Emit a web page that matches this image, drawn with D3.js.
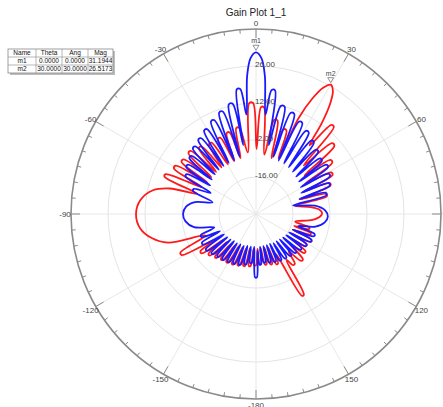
<!DOCTYPE html>
<html>
<head>
<meta charset="utf-8">
<script src="https://cdn.jsdelivr.net/npm/d3@7"></script>
<style>
  html, body { margin: 0; padding: 0; background: #fff; }
  svg { display: block; font-family: "Liberation Sans", Arial, sans-serif; }
</style>
</head>
<body>
<svg id="gainPlot" width="443" height="407"></svg>
<script>
// Gain Plot 1_1 : two traces, [theta deg, mag dB]
// (lobe edges near each tip, and the nulls between lobes)
const blueGain = [
  [-179.2,-6.0],[-177,-17.5],[-175,-11.4],[-173,-11.4],[-171,-17.5],[-169,-10.6],[-167,-10.6],[-165,-17.5],
  [-163,-9.9],[-161,-9.9],[-159,-17.1],[-157,-9.5],[-155,-9.5],[-153,-17.1],[-151,-9.1],[-149,-9.1],
  [-147,-16.8],[-145,-8.7],[-143,-8.7],[-141,-16.8],[-139,-8.4],[-137,-8.4],[-135,-16.4],[-133,-7.6],
  [-131,-7.6],[-129,-16.0],[-127,-6.8],[-125,-6.8],[-122.5,-15.6],[-120,-6.8],[-118,-6.8],[-115.5,-14.9],
  [-113,-7.6],[-111,-7.6],[-108,-13.4],[-102,-6.0],[-96,-3.2],[-90,-2.4],[-84,-3.4],[-79,-6.5],
  [-75,-13.0],[-70,-4.6],[-68,-4.6],[-65,-11.1],[-62,0.2],[-60,0.2],[-58,-9.6],[-56,1.8],
  [-54,1.8],[-52,-8.8],[-50,2.9],[-48,2.9],[-46,-8.4],[-44,4.4],[-42,4.4],[-40,-8.1],
  [-38,5.5],[-36,5.5],[-34,-8.1],[-32,7.1],[-30,7.1],[-28,-8.1],[-26,8.9],[-24,8.9],
  [-22,-8.1],[-20,10.8],[-18,10.8],[-16,-7.3],[-14,12.7],[-12,12.7],[-10.5,-3.5],[-8.8,17.7],
  [-7.2,17.7],[-5.5,7.8],[-3.7,22.2],[-2,29.0],[0,31.19],[2,29.0],[3.7,22.2],[5.5,7.8],
  [7.2,17.3],[8.8,17.3],[10.5,-3.5],[13,12.0],[15,12.0],[17,-7.3],[19,10.5],[21,10.5],
  [23,-8.1],[25,8.6],[27,8.6],[29,-8.1],[31,6.7],[33,6.7],[35,-8.4],[37,4.8],
  [39,4.8],[41,-8.8],[43,3.3],[45,3.3],[47,-9.2],[49,2.1],[51,2.1],[53,-9.6],
  [55,2.5],[57,2.5],[59,-10.3],[61,1.4],[63,1.4],[65,-11.1],[67,-0.1],[69,-0.1],
  [71,-12.6],[73,-2.4],[75,-2.4],[77,-15.6],[82,-7.5],[87,-3.8],[92,-2.8],[97,-3.8],
  [102,-7.0],[106,-13.4],[109,-6.5],[111,-6.5],[113,-14.9],[115,-6.8],[117,-6.8],[119,-15.6],
  [121,-7.6],[123,-7.6],[125,-16.0],[127,-8.4],[129,-8.4],[131,-16.4],[133,-9.1],[135,-9.1],
  [137,-16.8],[139,-9.5],[141,-9.5],[143,-17.1],[145,-9.9],[147,-9.9],[149,-17.1],[151,-10.2],
  [153,-10.2],[155,-17.5],[157,-10.6],[159,-10.6],[161,-17.5],[163,-11.0],[165,-11.0],[167,-17.5],
  [169,-11.4],[171,-11.4],[173,-17.5],[174.5,-10.8],[176,-10.8],[177.7,-16.0],[179.2,-6.0]
];

const redGain = [
  [-180,-10.6],[-178,-10.6],[-176,-16.8],[-174,-10.2],[-172,-10.2],[-170,-16.8],[-168,-9.9],[-166,-9.9],
  [-164,-16.4],[-162,-9.5],[-160,-9.5],[-158,-16.4],[-156,-9.1],[-154,-9.1],[-152,-16.0],[-150,-8.7],
  [-148,-8.7],[-146,-15.6],[-144,-8.4],[-142,-8.4],[-140,-15.2],[-138,-7.6],[-136,-7.6],[-134,-14.9],
  [-132,-6.5],[-130,-6.5],[-128,-14.1],[-126,-4.6],[-124,-4.6],[-122,-11.8],[-119,2.1],[-117,2.1],
  [-113,-9.2],[-108,5.0],[-103,10.5],[-97,14.2],[-90,15.4],[-83,14.0],[-77,10.0],[-73.5,4.0],
  [-71,-6.5],[-67.8,7.4],[-66.2,7.4],[-63.5,-7.3],[-61,5.5],[-59,5.5],[-57,-8.1],[-55,4.4],
  [-53,4.4],[-50.5,-8.1],[-48,4.4],[-46,4.4],[-43.5,-8.1],[-41,2.9],[-39,2.9],[-36.5,-8.1],
  [-34,1.8],[-32,1.8],[-29.5,-8.4],[-27,1.8],[-25,1.8],[-22.5,-8.4],[-20,2.5],[-18,2.5],
  [-15.5,-8.1],[-13,3.3],[-11,3.3],[-7.5,-6.5],[-3.5,12.0],[-1.5,12.0],[0.5,-5.4],[2.7,10.5],
  [4.3,10.5],[8,-7.3],[11,6.3],[13,6.3],[15.5,-8.1],[18,3.7],[20,3.7],[22,-7.3],
  [24,10.0],[26,18.5],[28,24.1],[30,26.52],[32,24.9],[34,20.0],[36,12.0],[38,2.9],
  [40.2,14.2],[41.8,14.2],[44.5,-4.3],[47,9.3],[49,9.3],[51.5,-6.5],[54,4.8],[56,4.8],
  [58.5,-8.4],[61,2.5],[63,2.5],[65,-10.3],[67,0.2],[69,0.2],[71.5,-12.6],[74,-2.4],
  [76,-2.4],[78,-14.9],[83,-9.0],[86,-6.0],[89,-5.0],[92,-5.6],[96,-8.5],[101,-14.9],
  [104.2,-9.1],[105.8,-9.1],[107.5,-14.9],[109.2,-8.0],[110.8,-8.0],[113,-14.9],[115,-6.8],[117,-6.8],
  [119,-14.1],[121,-7.6],[123,-7.6],[125,-14.1],[127,-6.5],[129,-6.5],[131.5,-13.0],[134,-5.3],
  [136,-5.3],[139,-11.1],[142,-6.1],[144,-6.1],[146.5,-9.2],[149.3,5.5],[150.7,5.5],[153.5,-13.0],
  [156,-9.5],[158,-9.5],[160,-16.4],[162,-10.2],[164,-10.2],[166,-16.8],[168,-10.6],[170,-10.6],
  [172,-16.8],[174,-11.0],[176,-11.0],[177.5,-16.8]
];

const magDomain = [-30, 40];
const ringTicks = [-16, -2, 12, 26];
const spokeAngles = [0, 30, 60, 90, 120, 150, 180, 210, 240, 270, 300, 330];
const spokeLabels = ["0", "30", "60", "90", "120", "150", "-180", "-150", "-120", "-90", "-60", "-30"];

const markers = [
  { name: "m1", theta: 0, mag: 31.1944 },
  { name: "m2", theta: 30, mag: 26.5173 }
];
const tableHeader = ["Name", "Theta", "Ang", "Mag"];
const tableRows = [
  ["m1", "0.0000", "0.0000", "31.1944"],
  ["m2", "30.0000", "30.0000", "26.5173"]
];

const svg = d3.select("#gainPlot");
const cx = 256, cy = 214, R = 185;
const rad = d => d * Math.PI / 180;
const r = d3.scaleLinear().domain(magDomain).range([0, R]);

// title
svg.append("text")
  .attr("x", cx).attr("y", 16)
  .attr("text-anchor", "middle")
  .attr("font-size", 10)
  .attr("fill", "#222")
  .text("Gain Plot 1_1");

const g = svg.append("g").attr("transform", `translate(${cx},${cy})`);

// grid rings and spokes
g.selectAll("circle.ring")
  .data(ringTicks)
  .join("circle")
  .attr("class", "ring")
  .attr("r", d => r(d))
  .attr("fill", "none")
  .attr("stroke", "#e4e4e4")
  .attr("stroke-width", 1);

g.selectAll("line.spoke")
  .data(spokeAngles)
  .join("line")
  .attr("class", "spoke")
  .attr("x1", 0).attr("y1", 0)
  .attr("x2", d => R * Math.sin(rad(d)))
  .attr("y2", d => -R * Math.cos(rad(d)))
  .attr("stroke", "#e8e8e8")
  .attr("stroke-width", 1);

// outer ring with ticks every 5 degrees
g.append("circle")
  .attr("r", R)
  .attr("fill", "none")
  .attr("stroke", "#8a8a8a")
  .attr("stroke-width", 1.6);

const tickAngles = d3.range(0, 360, 5);
g.selectAll("line.tick")
  .data(tickAngles)
  .join("line")
  .attr("class", "tick")
  .attr("x1", d => R * Math.sin(rad(d)))
  .attr("y1", d => -R * Math.cos(rad(d)))
  .attr("x2", d => (R - (d % 30 === 0 ? 9 : 4)) * Math.sin(rad(d)))
  .attr("y2", d => -(R - (d % 30 === 0 ? 9 : 4)) * Math.cos(rad(d)))
  .attr("stroke", "#8a8a8a")
  .attr("stroke-width", 1);

g.selectAll("text.angle")
  .data(spokeAngles)
  .join("text")
  .attr("class", "angle")
  .attr("x", d => 191 * Math.sin(rad(d)))
  .attr("y", d => -191 * Math.cos(rad(d)) + 3)
  .attr("text-anchor", "middle")
  .attr("font-size", 8)
  .attr("fill", "#444")
  .text((d, i) => spokeLabels[i]);

// traces
const line = d3.lineRadial()
  .angle(d => rad(d[0]))
  .radius(d => r(d[1]))
  .curve(d3.curveCatmullRomClosed.alpha(0.5));

g.append("path")
  .datum(redGain)
  .attr("d", line)
  .attr("fill", "none")
  .attr("stroke", "#ff1a1a")
  .attr("stroke-width", 1.8);

g.append("path")
  .datum(blueGain)
  .attr("d", line)
  .attr("fill", "none")
  .attr("stroke", "#1a1aff")
  .attr("stroke-width", 1.8);

// ring labels
g.selectAll("text.ringLabel")
  .data(ringTicks)
  .join("text")
  .attr("class", "ringLabel")
  .attr("x", -1)
  .attr("y", d => -r(d) + 1)
  .attr("font-size", 8)
  .attr("fill", "#444")
  .text(d => d.toFixed(2));

// markers
const mk = g.selectAll("g.marker")
  .data(markers)
  .join("g")
  .attr("class", "marker")
  .attr("transform", d => {
    const rr = r(d.mag);
    return `translate(${rr * Math.sin(rad(d.theta))},${-rr * Math.cos(rad(d.theta))})`;
  });
mk.append("path")
  .attr("d", "M0,-2 L-3,-7 L3,-7 Z")
  .attr("fill", "#fff")
  .attr("stroke", "#777")
  .attr("stroke-width", 0.8);
mk.append("text")
  .attr("y", -9)
  .attr("text-anchor", "middle")
  .attr("font-size", 7)
  .attr("fill", "#444")
  .text(d => d.name);

// marker table
const colX = [8, 36, 62, 88, 113];
const rowY = [49, 57, 65, 73];
const table = svg.append("g");
table.append("rect")
  .attr("x", colX[0] + 2).attr("y", rowY[0] + 2)
  .attr("width", colX[4] - colX[0]).attr("height", rowY[3] - rowY[0])
  .attr("fill", "#bdbdbd");
table.append("rect")
  .attr("x", colX[0]).attr("y", rowY[0])
  .attr("width", colX[4] - colX[0]).attr("height", rowY[3] - rowY[0])
  .attr("fill", "#fff")
  .attr("stroke", "#888")
  .attr("stroke-width", 0.8);
table.selectAll("line.col")
  .data(colX.slice(1, 4))
  .join("line")
  .attr("x1", d => d).attr("x2", d => d)
  .attr("y1", rowY[0]).attr("y2", rowY[3])
  .attr("stroke", "#999").attr("stroke-width", 0.7);
table.selectAll("line.row")
  .data(rowY.slice(1, 3))
  .join("line")
  .attr("x1", colX[0]).attr("x2", colX[4])
  .attr("y1", d => d).attr("y2", d => d)
  .attr("stroke", "#999").attr("stroke-width", 0.7);

const cells = [tableHeader, ...tableRows];
cells.forEach((row, ri) => {
  table.selectAll(null)
    .data(row)
    .join("text")
    .attr("x", (d, ci) => (colX[ci] + colX[ci + 1]) / 2)
    .attr("y", (rowY[ri] + rowY[ri + 1]) / 2 + 2.3)
    .attr("text-anchor", "middle")
    .attr("font-size", 6.5)
    .attr("fill", "#111")
    .text(d => d);
});
</script>
</body>
</html>
